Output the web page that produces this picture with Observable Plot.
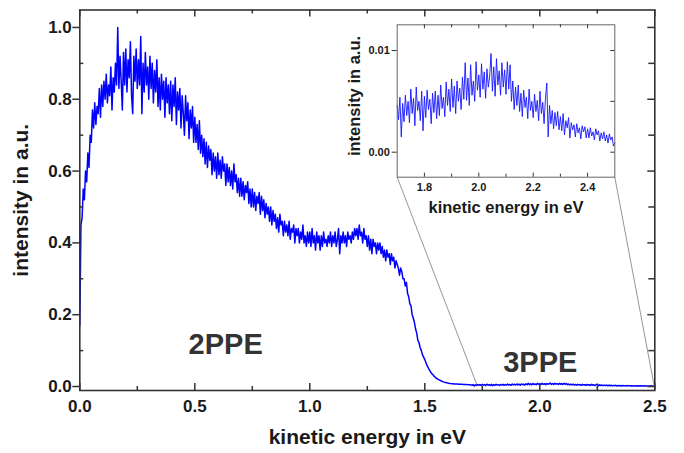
<!DOCTYPE html>
<html><head><meta charset="utf-8">
<script src="https://cdn.jsdelivr.net/npm/d3@7"></script>
<script src="https://cdn.jsdelivr.net/npm/@observablehq/plot@0.6"></script>
<style>
body{margin:0;background:#fff}
#c{position:relative;width:684px;height:453px}
#c svg{position:absolute;top:0}
</style>
</head><body><div id="c"></div>
<script>
const FONT = '"Liberation Sans", Arial, Helvetica, sans-serif';

// ---- data ----
// main spectrum, kinetic energy 0.000 ... 1.495 eV, one value per 0.005 eV
const riseStart = 0, riseStep = 0.005;
const rise = [
0.17,0.45,0.47,0.55,0.52,0.60,0.57,0.65,0.61,0.70,
0.68,0.77,0.72,0.79,0.73,0.78,0.76,0.83,0.75,0.84,
0.78,0.85,0.80,0.87,0.79,0.84,0.81,0.89,0.77,0.86,
0.82,0.90,0.84,1.00,0.83,0.92,0.85,0.77,0.93,0.84,
0.94,0.82,0.91,0.86,0.96,0.81,0.76,0.92,0.85,0.94,
0.83,0.91,0.84,0.975,0.76,0.90,0.82,0.93,0.84,0.89,
0.80,0.92,0.83,0.90,0.79,0.88,0.82,0.91,0.78,0.86,
0.77,0.87,0.80,0.85,0.75,0.86,0.79,0.84,0.76,0.85,
0.74,0.84,0.78,0.86,0.73,0.82,0.77,0.83,0.72,0.81,
0.76,0.70,0.81,0.74,0.79,0.69,0.77,0.72,0.78,0.68,
0.75,0.68,0.73,0.66,0.74,0.65,0.70,0.64,0.69,0.62,
0.68,0.61,0.67,0.63,0.66,0.59,0.65,0.60,0.64,0.58,
0.65,0.59,0.63,0.58,0.64,0.60,0.62,0.56,0.62,0.57,
0.61,0.56,0.60,0.55,0.62,0.57,0.59,0.54,0.58,0.53,
0.58,0.53,0.57,0.52,0.56,0.54,0.57,0.51,0.55,0.50,
0.55,0.50,0.54,0.49,0.53,0.51,0.54,0.48,0.53,0.49,
0.52,0.47,0.51,0.48,0.50,0.46,0.50,0.45,0.49,0.46,
0.48,0.44,0.47,0.43,0.48,0.45,0.46,0.42,0.46,0.43,
0.45,0.42,0.46,0.41,0.44,0.43,0.45,0.40,0.44,0.42,
0.44,0.40,0.43,0.41,0.45,0.40,0.42,0.39,0.43,0.40,
0.43,0.39,0.44,0.40,0.42,0.38,0.43,0.40,0.42,0.38,
0.42,0.39,0.43,0.40,0.41,0.39,0.42,0.40,0.43,0.39,
0.42,0.40,0.43,0.39,0.41,0.44,0.37,0.42,0.40,0.43,
0.40,0.42,0.39,0.43,0.41,0.42,0.40,0.43,0.41,0.44,
0.42,0.44,0.41,0.45,0.42,0.43,0.40,0.44,0.41,0.42,
0.39,0.42,0.38,0.41,0.37,0.41,0.39,0.40,0.37,0.40,
0.38,0.40,0.37,0.39,0.36,0.38,0.35,0.38,0.36,0.37,
0.34,0.37,0.35,0.36,0.33,0.35,0.34,0.33,0.31,0.33,
0.32,0.30,0.30,0.28,0.29,0.26,0.25,0.23,0.225,0.20,
0.19,0.178,0.16,0.148,0.128,0.122,0.108,0.10,0.088,0.082
];
// cut-off edge, 1.50 ... 1.69 eV, one value per 0.01 eV
const edgeStart = 1.5, edgeStep = 0.01;
const edge = [
0.075,0.058,0.046,0.036,0.029,0.023,0.019,0.016,0.013,0.011,
0.0095,0.0085,0.0078,0.0072,0.0068,0.0062,0.0064,0.0055,0.0058,0.005
];
// 3PPE region (also shown in the inset), 1.700 ... 2.500 eV, one value per 0.005 eV
const ppe3Start = 1.7, ppe3Step = 0.005;
const ppe3 = [
0.0046,0.0032,0.0054,0.0015,0.0048,0.0030,0.0056,0.0036,0.0050,0.0029,
0.0062,0.0038,0.0053,0.0026,0.0064,0.0041,0.0050,0.0031,0.0060,0.0021,
0.0055,0.0034,0.0061,0.0042,0.0052,0.0028,0.0058,0.0039,0.0060,0.0033,
0.0056,0.0036,0.0066,0.0043,0.0054,0.0035,0.0069,0.0046,0.0062,0.0040,
0.0072,0.0044,0.0065,0.0038,0.0070,0.0050,0.0063,0.0042,0.0074,0.0052,
0.0088,0.0051,0.0073,0.0046,0.0086,0.0056,0.0070,0.0050,0.0089,0.0061,
0.0076,0.0054,0.0087,0.0062,0.0079,0.0053,0.0082,0.0064,0.0075,0.0097,
0.0060,0.0084,0.0055,0.0092,0.0066,0.0080,0.0056,0.0088,0.0064,0.0081,
0.0057,0.0089,0.0062,0.0086,0.0050,0.0070,0.0042,0.0064,0.0046,0.0066,
0.0040,0.0058,0.0035,0.0061,0.0044,0.0054,0.0033,0.0062,0.0041,0.0050,
0.0034,0.0057,0.0040,0.0051,0.0031,0.0060,0.0038,0.0049,0.0028,0.0053,
0.0068,0.0015,0.0046,0.0028,0.0041,0.0023,0.0039,0.0026,0.0040,0.0022,
0.0035,0.0021,0.0038,0.0017,0.0031,0.0024,0.0034,0.0014,0.0029,0.0022,
0.0027,0.0015,0.0028,0.0019,0.0024,0.0013,0.0026,0.0020,0.0025,0.0014,
0.0023,0.0014,0.0024,0.0016,0.0020,0.0012,0.0023,0.0017,0.0021,0.0011,
0.0019,0.0013,0.0020,0.0011,0.0017,0.0009,0.0018,0.0012,0.0015,0.0006,0.0009
];
// ticks
const mainXMajor = [0, 0.5, 1.0, 1.5, 2.0, 2.5];
const mainXMinor = [0.25, 0.75, 1.25, 1.75, 2.25];
const mainYMajor = [0, 0.2, 0.4, 0.6, 0.8, 1.0];
const mainYMinor = [0.1, 0.3, 0.5, 0.7, 0.9];
const insetXMajor = [1.8, 2.0, 2.2, 2.4];
const insetXMinor = [1.9, 2.1, 2.3];
const insetYMajor = [0, 0.01];
const insetYMinor = [0.005];
// annotations
const peakLabels = [
  {text: "2PPE", x: 0.473, y: 0.117},
  {text: "3PPE", x: 1.841, y: 0.065}
];
const mainXLabel = "kinetic energy in eV";
const mainYLabel = "intensity in a.u.";
const insetXLabel = "kinetic energy in eV";
const insetYLabel = "intensity in a.u.";
// where the zoom lines meet the main curve
const zoomTargets = [{x: 1.727, y: 0.004}, {x: 2.497, y: 0.003}];

// ---- series ----
const mainSeries = [
  ...rise.map((y, i) => ({x: riseStart + i * riseStep, y})),
  ...edge.map((y, i) => ({x: edgeStart + i * edgeStep, y})),
  ...ppe3.map((y, i) => ({x: ppe3Start + i * ppe3Step, y}))
];
const insetSeries = ppe3.map((y, i) => ({x: ppe3Start + i * ppe3Step, y}));

// ---- layout ----
const W = 684, H = 453;
const mL = 79.3, mR = 29.7, mT = 9.5, mB = 63;
const fw = W - mL - mR, fh = H - mT - mB;
const xDom = [0, 2.5], yDom = [-0.0111, 1.0486];

const IX = 340, IY = 0, IW = 290, IH = 230;
const iL = 56.7, iR = 15.7, iT = 24.3, iB = 53.3;
const ifw = IW - iL - iR, ifh = IH - iT - iB;
const ixDom = [1.7, 2.5], iyDom = [-0.00246, 0.01253];

const xMain = d3.scaleLinear(xDom, [mL, W - mR]);
const yMain = d3.scaleLinear(yDom, [H - mB, mT]);
const cornerY = IY + IH - iB;
const connectors = [
  {x1: xMain.invert(IX + iL), y1: yMain.invert(cornerY), x2: zoomTargets[0].x, y2: zoomTargets[0].y},
  {x1: xMain.invert(IX + IW - iR), y1: yMain.invert(cornerY), x2: zoomTargets[1].x, y2: zoomTargets[1].y}
];

const ink = "#1a1a1a", axisInk = "#333";
const bold = {fontWeight: "bold", fill: ink};

const main = Plot.plot({
  width: W, height: H,
  marginLeft: mL, marginRight: mR, marginTop: mT, marginBottom: mB,
  x: {domain: xDom}, y: {domain: yDom},
  style: {fontFamily: FONT, background: "transparent", overflow: "visible"},
  marks: [
    Plot.link(connectors, {x1: "x1", y1: "y1", x2: "x2", y2: "y2", stroke: "#8a8a8a", strokeWidth: 0.9}),
    Plot.line(mainSeries, {x: "x", y: "y", stroke: "#0000ff", strokeWidth: 1.5}),
    Plot.frame({stroke: axisInk, strokeWidth: 1.6}),
    // bottom / top ticks (inward)
    Plot.ruleX(mainXMajor, {insetTop: fh - 7, stroke: axisInk, strokeWidth: 1.5}),
    Plot.ruleX(mainXMinor, {insetTop: fh - 4, stroke: axisInk, strokeWidth: 1.5}),
    Plot.ruleX(mainXMajor, {insetBottom: fh - 7, stroke: axisInk, strokeWidth: 1.5}),
    Plot.ruleX(mainXMinor, {insetBottom: fh - 4, stroke: axisInk, strokeWidth: 1.5}),
    // left ticks: majors outward, minors inward
    Plot.ruleY(mainYMajor, {dx: -7, insetRight: fw - 7, stroke: axisInk, strokeWidth: 1.5}),
    Plot.ruleY(mainYMinor, {insetRight: fw - 4, stroke: axisInk, strokeWidth: 1.5}),
    // right ticks inward
    Plot.ruleY(mainYMajor, {insetLeft: fw - 7, stroke: axisInk, strokeWidth: 1.5}),
    Plot.ruleY(mainYMinor, {insetLeft: fw - 6, stroke: axisInk, strokeWidth: 1.5}),
    Plot.axisX(mainXMajor, {tickSize: 0, tickPadding: 9, fontSize: 17, tickFormat: d3.format(".1f"), label: null, ...bold}),
    Plot.axisY(mainYMajor, {tickSize: 0, tickPadding: 8, fontSize: 17, tickFormat: d3.format(".1f"), label: null, ...bold}),
    Plot.text([mainXLabel], {text: d => d, frameAnchor: "bottom", textAnchor: "middle", lineAnchor: "middle", dy: 47, fontSize: 21, ...bold}),
    Plot.text([mainYLabel], {text: d => d, frameAnchor: "left", textAnchor: "middle", lineAnchor: "middle", dx: -59, rotate: -90, fontSize: 21, ...bold}),
    Plot.text(peakLabels, {x: "x", y: "y", text: "text", textAnchor: "start", lineAnchor: "middle", fontSize: 29, fontWeight: "bold", fill: "#333"})
  ]
});

const inset = Plot.plot({
  width: IW, height: IH,
  marginLeft: iL, marginRight: iR, marginTop: iT, marginBottom: iB,
  x: {domain: ixDom}, y: {domain: iyDom},
  style: {fontFamily: FONT, background: "transparent", overflow: "visible"},
  marks: [
    Plot.line(insetSeries, {x: "x", y: "y", stroke: "#1414ff", strokeWidth: 0.9}),
    Plot.frame({stroke: "#666", strokeWidth: 1}),
    Plot.ruleX(insetXMajor, {insetTop: ifh - 4, stroke: "#333", strokeWidth: 1}),
    Plot.ruleX(insetXMinor, {insetTop: ifh - 3, stroke: "#333", strokeWidth: 1}),
    Plot.ruleX(insetXMajor, {insetBottom: ifh - 4, stroke: "#333", strokeWidth: 1}),
    Plot.ruleX(insetXMinor, {insetBottom: ifh - 3, stroke: "#333", strokeWidth: 1}),
    Plot.ruleY(insetYMajor, {dx: -5, insetRight: ifw - 5, stroke: "#333", strokeWidth: 1}),
    Plot.ruleY(insetYMajor, {insetLeft: ifw - 4, stroke: "#333", strokeWidth: 1}),
    Plot.ruleY(insetYMinor, {insetLeft: ifw - 4, stroke: "#333", strokeWidth: 1}),
    Plot.axisX(insetXMajor, {tickSize: 0, tickPadding: 6, fontSize: 11, tickFormat: d3.format(".1f"), label: null, ...bold}),
    Plot.axisY(insetYMajor, {tickSize: 0, tickPadding: 7.4, fontSize: 11, tickFormat: d3.format(".2f"), label: null, ...bold}),
    Plot.text([insetXLabel], {text: d => d, frameAnchor: "bottom", textAnchor: "middle", lineAnchor: "middle", dy: 30.7, fontSize: 16.5, ...bold}),
    Plot.text([insetYLabel], {text: d => d, frameAnchor: "left", textAnchor: "middle", lineAnchor: "middle", dx: -42.7, dy: -5, rotate: -90, fontSize: 16.5, ...bold})
  ]
});

const c = document.getElementById("c");
main.style.left = "0px";
inset.style.left = IX + "px";
inset.style.top = IY + "px";
c.append(main, inset);
</script>
</body></html>
